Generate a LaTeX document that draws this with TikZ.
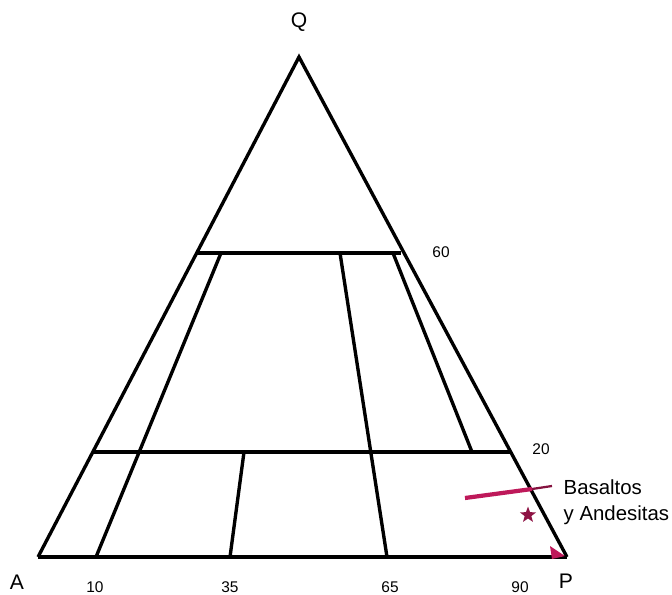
\documentclass[tikz,border=0pt]{standalone}
\usepackage{fontspec}
\setmainfont{Liberation Sans}
\usetikzlibrary{arrows.meta, positioning, shapes.geometric}
\definecolor{basalto}{RGB}{190,25,90}

\begin{document}
\begin{tikzpicture}[x=0.025cm,y=-0.025cm,line width=2.4pt,line join=miter,
  vtx/.style={font=\fontsize{15}{16}\selectfont,inner sep=0pt},
  num/.style={font=\fontsize{11}{12}\selectfont,inner sep=0pt},
  txt/.style={font=\fontsize{14.5}{16}\selectfont,inner sep=0pt,anchor=base west}]
  \useasboundingbox (0,0) rectangle (672,594);
  % vertices of the triangle
  \coordinate (A) at (38,557);
  \coordinate (P) at (567,557);
  \coordinate (Q) at (299,57);
  \draw (A)--(Q)--(P);
  \draw[line width=3pt] (A)--(P);
  % horizontal lines at 60 and 20
  \coordinate (l60) at (197,253);
  \coordinate (r60) at (401,253);
  \coordinate (l20) at (93,452);
  \coordinate (r20) at (511,452);
  \draw (l60)--(r60);
  \draw (l20)--(r20);
  % field boundaries
  \coordinate (b10) at (96,557);  \coordinate (t10) at (221,253);
  \coordinate (b35) at (230,557); \coordinate (m35) at (244,452);
  \coordinate (b65) at (387,557); \coordinate (t65) at (340,253);
  \coordinate (t90) at (393,253); \coordinate (m90) at (472,452);
  \draw (b10)--(t10);
  \draw (b35)--(m35);
  \draw (b65)--(t65);
  \draw (t90)--(m90);
  % labels
  \node[vtx] (q) at (299,22){Q};
  \node[vtx] (a) at (17,582){A};
  \node[vtx] (p) at (566,581){P};
  \node[num] (n60) at (441,252){60};
  \node[num] (n20) at (541,449){20};
  \node[num] (n10) at (95,587){10};
  \node[num] (n35) at (230,587){35};
  \node[num] (n65) at (390,587){65};
  \node[num] (n90) at (520,587){90};
  % basaltos y andesitas
  \coordinate (s1) at (465,498);
  \coordinate (s2) at (532,489);
  \coordinate (s3) at (552,486);
  \draw[basalto,line width=3pt] (s1)--(s2);
  \draw[basalto!70!black,line width=1.6pt] (s2)--(s3);
  \node[star,star points=5,star point ratio=2.4,fill=basalto!75!black,
    inner sep=0pt,minimum size=12pt] (st) at (528,515){};
  \fill[basalto] (550,546)--(565,556)--(552,559)--cycle;
  \node[txt] (bas) at (562,494){Basaltos};
  \node[txt] (and) at (562,520){y Andesitas};
\end{tikzpicture}
\end{document}
